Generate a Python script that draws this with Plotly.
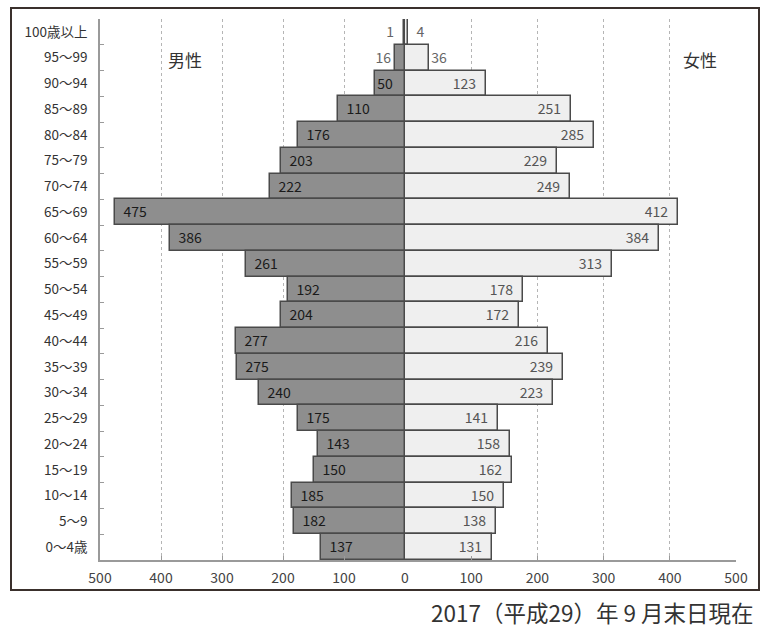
import plotly.graph_objects as go

ages = ["100歳以上", "95〜99", "90〜94", "85〜89", "80〜84", "75〜79", "70〜74",
        "65〜69", "60〜64", "55〜59", "50〜54", "45〜49", "40〜44", "35〜39",
        "30〜34", "25〜29", "20〜24", "15〜19", "10〜14", "5〜9", "0〜4歳"]
male = [1, 16, 50, 110, 176, 203, 222, 475, 386, 261, 192, 204, 277, 275,
        240, 175, 143, 150, 185, 182, 137]
female = [4, 36, 123, 251, 285, 229, 249, 412, 384, 313, 178, 172, 216, 239,
          223, 141, 158, 162, 150, 138, 131]
tick_vals = [0, 100, 200, 300, 400, 500]

FONT = "Noto Sans CJK JP"
NB = "\u00a0"

# figure geometry (pixels)
W, H = 761, 630
L, R, T, B = 100, 25, 19, 70
pw = W - L - R
ph = H - T - B
split = (405 - L) / pw

def lab_m(v):
    if v < 10:
        return str(v) + NB * 2, "outside"
    if v < 30:
        return str(v), "outside"
    if v < 80:
        return str(v), "inside"
    return NB * 2 + str(v), "inside"

def lab_f(v):
    if v < 10:
        return NB * 2 + str(v), "outside"
    if v < 60:
        return str(v), "outside"
    return str(v) + NB * 2, "inside"

mt = [lab_m(v) for v in male]
ft = [lab_f(v) for v in female]

fig = go.Figure()
fig.add_trace(go.Bar(
    y=ages, x=male, orientation="h", xaxis="x", yaxis="y",
    marker=dict(color="#8e8e8e", line=dict(color="#4a4a4a", width=1.5)),
    text=[t[0] for t in mt], textposition=[t[1] for t in mt],
    insidetextanchor="end", constraintext="none", cliponaxis=False,
    textangle=0,
    insidetextfont=dict(family=FONT, size=14, color="#1a1a1a"),
    outsidetextfont=dict(family=FONT, size=14, color="#666666"),
    hoverinfo="skip", showlegend=False,
))
fig.add_trace(go.Bar(
    y=ages, x=female, orientation="h", xaxis="x2", yaxis="y",
    marker=dict(color="#efefef", line=dict(color="#4a4a4a", width=1.5)),
    text=[t[0] for t in ft], textposition=[t[1] for t in ft],
    insidetextanchor="end", constraintext="none", cliponaxis=False,
    textangle=0,
    insidetextfont=dict(family=FONT, size=14, color="#555555"),
    outsidetextfont=dict(family=FONT, size=14, color="#666666"),
    hoverinfo="skip", showlegend=False,
))

axis_common = dict(
    showgrid=True, gridcolor="#b5b5b5", griddash="dot", gridwidth=1,
    zeroline=False, showline=True, linecolor="#9a9a9a", linewidth=1.5,
    ticks="inside", ticklen=4, tickcolor="#9a9a9a",
    tickfont=dict(family=FONT, size=14, color="#444444"),
    ticklabelstandoff=4,
    fixedrange=True,
)

fig.update_layout(
    width=W, height=H,
    margin=dict(l=L, r=R, t=T, b=B),
    paper_bgcolor="white", plot_bgcolor="white",
    barmode="overlay", bargap=0,
    xaxis=dict(domain=[0, split], range=[500, 0], anchor="y",
               tickvals=[v for v in tick_vals], ticktext=[str(v) for v in tick_vals],
               **axis_common),
    xaxis2=dict(domain=[split, 1], range=[0, 500], anchor="y",
                tickvals=tick_vals[1:], ticktext=[str(v) for v in tick_vals[1:]],
                **axis_common),
    yaxis=dict(categoryorder="array", categoryarray=ages[::-1],
               range=[-0.5, len(ages) - 0.5], anchor="x",
               showline=True, linecolor="#9a9a9a", linewidth=1.5,
               ticks="inside", tickson="boundaries", ticklen=4, tickcolor="#9a9a9a",
               showgrid=False, ticklabelstandoff=8,
               tickfont=dict(family=FONT, size=13.5, color="#333333"),
               fixedrange=True),
    shapes=[dict(type="rect", xref="paper", yref="paper",
                 x0=(11 - L) / pw, x1=(759 - L) / pw,
                 y0=-(590 - (H - B)) / ph, y1=(H - B - 8) / ph,
                 line=dict(color="#3a302c", width=2), layer="above")],
    annotations=[
        dict(text="男性", xref="paper", yref="paper",
             x=(185 - L) / pw, y=(H - B - 60) / ph, showarrow=False,
             xanchor="center", yanchor="middle",
             font=dict(family=FONT, size=17, color="#333333")),
        dict(text="女性", xref="paper", yref="paper",
             x=(700 - L) / pw, y=(H - B - 60) / ph, showarrow=False,
             xanchor="center", yanchor="middle",
             font=dict(family=FONT, size=17, color="#333333")),
        dict(text="2017（平成29）年 9 月末日現在", xref="paper", yref="paper",
             x=(756 - L) / pw, y=-(612 - (H - B)) / ph,
             xanchor="right", yanchor="middle", showarrow=False,
             font=dict(family=FONT, size=22.5, color="#333333")),
    ],
)

fig.write_html("out.html")
